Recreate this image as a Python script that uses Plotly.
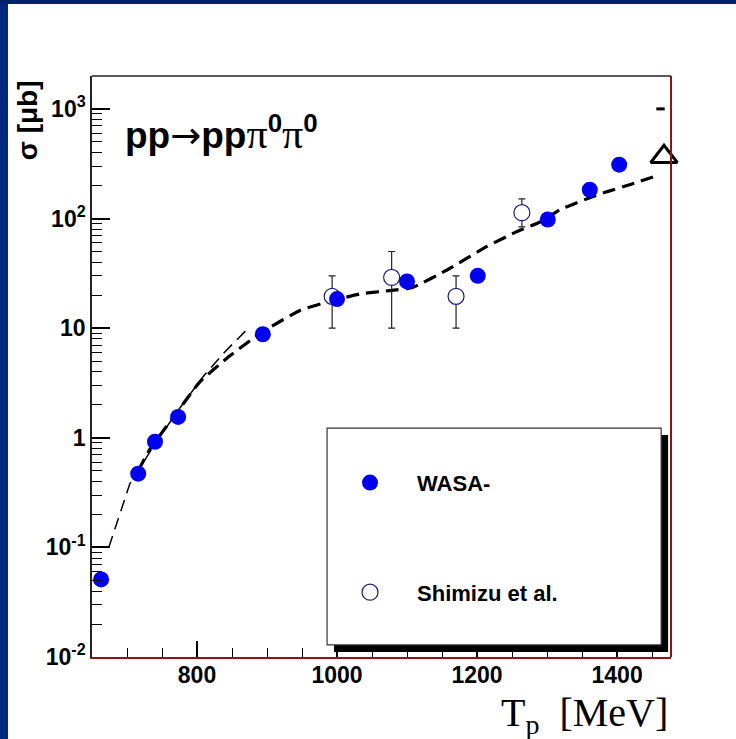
import plotly.graph_objects as go

# WASA measurements (filled circles)
wasa_T = [663, 716, 740, 773, 894, 1000, 1100, 1201, 1301, 1361, 1403]
wasa_sigma = [0.051, 0.47, 0.92, 1.55, 8.8, 18.4, 26.7, 30, 98, 183, 310]

# Shimizu et al. (open circles with error bars)
shimizu_T = [993, 1078, 1170, 1264]
shimizu_sigma = [19.5, 29, 19.5, 113]
shimizu_err_plus = [10.5, 21, 10.5, 38]
shimizu_err_minus = [9.5, 19, 9.5, 29]

# Model curves (dashed)
model_thin_T = [674, 704, 740, 775, 810, 840, 872]
model_thin_sigma = [0.1, 0.38, 0.88, 1.85, 3.7, 6.1, 9.8]
model_T = [716, 733, 773, 804, 847, 894, 947, 990, 1033, 1075, 1108, 1161,
           1214, 1257, 1290, 1319, 1340, 1361, 1386, 1419, 1461]
model_sigma = [0.5, 0.79, 1.76, 3.24, 5.6, 9.3, 14.5, 17.6, 20.5, 22, 23.5, 35,
               55.6, 76, 93, 121, 137, 155, 176, 204, 251]

# Extra points near the upper end
extra_T = [1467]
extra_sigma = [366]
mark_T = [1462]
mark_sigma = [1000]

x_ticks = [800, 1000, 1200, 1400]
x_minor = [700, 750, 850, 900, 950, 1050, 1100, 1150, 1250, 1300, 1350, 1450]
y_ticks = [0.01, 0.1, 1, 10, 100, 1000]
y_ticktext = ["10<sup>-2</sup>", "10<sup>-1</sup>", "1", "10", "10<sup>2</sup>", "10<sup>3</sup>"]
y_minor = [m * 10 ** e for e in range(-2, 4) for m in range(2, 10) if m * 10 ** e <= 2000]

BLUE = "#0000ee"
DARKRED = "#8b1414"
FRAME_BLUE = "#00287c"
SANS = "Liberation Sans, Arial, sans-serif"
SERIF = "Liberation Serif, Times New Roman, serif"

fig = go.Figure()

fig.add_trace(go.Scatter(
    x=model_thin_T, y=model_thin_sigma, mode="lines",
    line=dict(color="black", width=1.5, dash="12px,7px"),
    showlegend=False, hoverinfo="skip"))
fig.add_trace(go.Scatter(
    x=model_T, y=model_sigma, mode="lines",
    line=dict(color="black", width=3.2, dash="13px,7px", shape="spline", smoothing=0.4),
    showlegend=False, hoverinfo="skip"))

fig.add_trace(go.Scatter(
    x=shimizu_T, y=shimizu_sigma, mode="markers", name="Shimizu et al.",
    legendgroup="b", legendrank=2,
    marker=dict(symbol="circle", size=16, color="white",
                line=dict(color="#1c1c7a", width=1.2)),
    error_y=dict(type="data", array=shimizu_err_plus, arrayminus=shimizu_err_minus,
                 color="#222222", thickness=1.2, width=3.5),
))
fig.add_trace(go.Scatter(
    x=wasa_T, y=wasa_sigma, mode="markers", name="WASA-",
    legendgroup="a", legendrank=1,
    marker=dict(symbol="circle", size=16, color=BLUE, line=dict(width=0)),
    cliponaxis=False,
))
fig.add_trace(go.Scatter(
    x=extra_T, y=extra_sigma, mode="markers", showlegend=False,
    marker=dict(symbol="triangle-up-open", size=23, color="black",
                line=dict(color="black", width=3)),
    cliponaxis=False,
))
fig.add_trace(go.Scatter(
    x=mark_T, y=mark_sigma, mode="markers", showlegend=False,
    marker=dict(symbol="line-ew", size=6, line=dict(color="black", width=3)),
    cliponaxis=False,
))

# Legend box with drop shadow
lx0, lx1, ly0, ly1 = 0.406, 0.983, 0.0207, 0.394
shapes = [
    dict(type="rect", xref="paper", yref="paper", x0=lx0 + 0.012, x1=lx1 + 0.012,
         y0=ly0 - 0.012, y1=ly1 - 0.012, fillcolor="black", line=dict(width=0), layer="above"),
    dict(type="rect", xref="paper", yref="paper", x0=lx0, x1=lx1, y0=ly0, y1=ly1,
         fillcolor="white", line=dict(color="#333333", width=1.2), layer="above"),
    # frame lines: top black, right dark red
    dict(type="line", xref="paper", yref="paper", x0=0, x1=1, y0=1, y1=1,
         line=dict(color="#222222", width=1.5)),
    dict(type="line", xref="paper", yref="paper", x0=1, x1=1, y0=0, y1=1,
         line=dict(color=DARKRED, width=2)),
    # slide border
    dict(type="rect", xref="paper", yref="paper", x0=-0.1589, x1=-0.1451,
         y0=-0.15, y1=1.14, fillcolor=FRAME_BLUE, line=dict(width=0)),
    dict(type="rect", xref="paper", yref="paper", x0=-0.1589, x1=1.12,
         y0=1.1239, y1=1.14, fillcolor="#00226e", line=dict(width=0)),
]

PI = "<span style=\"font-family:Liberation Serif;font-size:42px\">π</span>"
annotations = [
    dict(xref="paper", yref="paper", x=0.0535, y=0.902, xanchor="left", yanchor="middle",
         showarrow=False,
         text="<b>pp</b><span style=\"font-family:DejaVu Sans\">→</span><b>pp</b>"
              + PI + "<sup><b>0</b></sup>" + PI + "<sup><b>0</b></sup>",
         font=dict(family=SANS, size=37, color="black")),
    dict(xref="paper", yref="paper", x=-0.112, y=0.924, xanchor="center", yanchor="middle",
         showarrow=False, textangle=-90, text="σ [μb]",
         font=dict(family=SANS, size=28, color="black", weight="bold")),
    dict(xref="paper", yref="paper", x=0.999, y=-0.1, xanchor="right", yanchor="middle",
         showarrow=False, text="T<sub>p</sub>  [MeV]",
         font=dict(family=SERIF, size=40, color="black")),
]

fig.update_layout(
    width=736, height=739,
    margin=dict(l=92, r=65, t=76, b=82),
    paper_bgcolor="white", plot_bgcolor="white",
    shapes=shapes, annotations=annotations,
    showlegend=True,
    legend=dict(x=0.399, y=0.336, xanchor="left", yanchor="top",
                bgcolor="rgba(0,0,0,0)", borderwidth=0,
                itemwidth=84, tracegroupgap=78, traceorder="grouped",
                font=dict(family=SANS, size=22, color="black", weight="bold")),
    xaxis=dict(
        range=[650, 1477], tickvals=x_ticks, ticks="inside", ticklen=16, tickwidth=1.5,
        tickcolor="black", showline=True, linecolor=DARKRED, linewidth=2,
        showgrid=False, zeroline=False, ticklabelstandoff=-4,
        tickfont=dict(family=SANS, size=23, color="black", weight="bold"),
        minor=dict(tickvals=x_minor, ticks="inside", ticklen=9, tickwidth=1.2, tickcolor="black"),
    ),
    yaxis=dict(
        type="log", range=[-2, 3.3], tickvals=y_ticks, ticktext=y_ticktext,
        ticks="inside", ticklen=18, tickwidth=1.5, tickcolor="black",
        showline=True, linecolor="#222222", linewidth=1.5, showgrid=False, zeroline=False,
        ticklabelstandoff=0,
        tickfont=dict(family=SANS, size=23, color="black", weight="bold"),
        minor=dict(tickvals=y_minor, ticks="inside", ticklen=10, tickwidth=1.2, tickcolor="black"),
    ),
)

fig.write_html("out.html")
